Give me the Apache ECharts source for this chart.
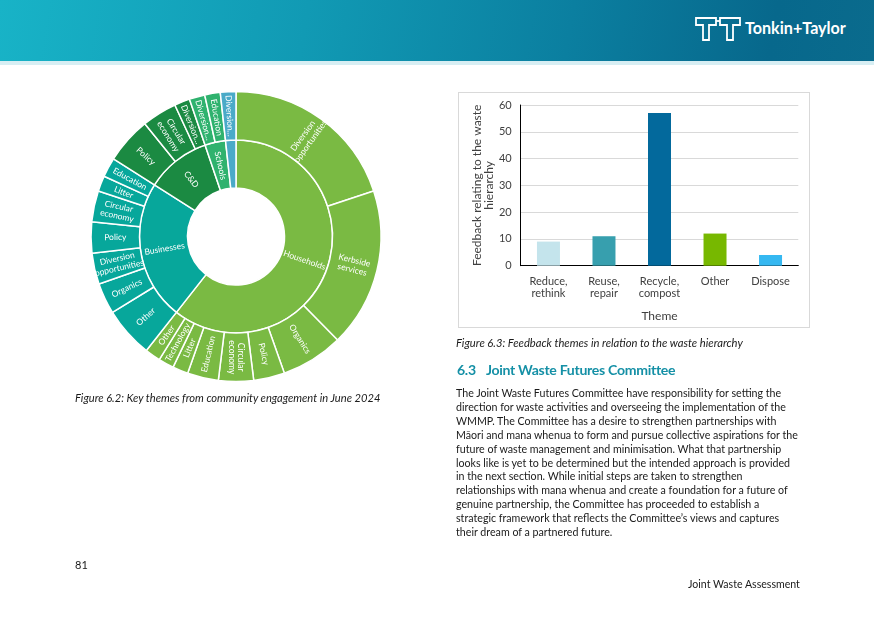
<!DOCTYPE html>
<html>
<head>
<meta charset="utf-8">
<script src="https://cdn.jsdelivr.net/npm/echarts@6/dist/echarts.min.js"></script>
<style>
  html, body { margin:0; padding:0; background:#fff; }
  body { width:874px; height:618px; position:relative; overflow:hidden; font-family: Lato, "Open Sans", sans-serif; color:#1a1a1a; }
  #header { position:absolute; left:0; top:0; width:874px; height:61px;
    background: linear-gradient(100deg, #18b3c7 0%, #119ab4 35%, #0b7fa0 65%, #07688c 88%, #0a6b8d 100%); }
  #strip { position:absolute; left:0; top:61px; width:874px; height:4px; background:#d7eef3; }
  #chart { position:absolute; left:0; top:0; width:874px; height:618px; }
  #box { position:absolute; left:458px; top:92px; width:350px; height:234px; border:1px solid #d9d9d9; }
  .t { position:absolute; white-space:nowrap; line-height:1; }
  .fit { display:inline-block; }
  #body { position:absolute; left:456px; top:386px; font-size:11px; line-height:13.9px; }
  #body div { white-space:nowrap; }
</style>
</head>
<body>
<div id="header">
  <svg style="position:absolute;left:695px;top:17px" width="48" height="25" viewBox="0 0 48 25">
    <path d="M1 1 H21 V8 H14 V23 H8 V8 H1 Z" fill="none" stroke="#fff" stroke-width="1.8"/>
    <path d="M25 1 H45 V8 H38 V23 H32 V8 H25 Z" fill="none" stroke="#fff" stroke-width="1.8"/>
    <path d="M21 4 H25" stroke="#fff" stroke-width="1.8"/>
  </svg>
  <div class="t fit" data-w="101" style="left:745px;top:20px;font-size:16px;font-weight:bold;color:#fff;">Tonkin+Taylor</div>
</div>
<div id="strip"></div>
<div id="box"></div>
<div id="chart"></div>

<div class="t fit" data-w="306" style="left:75px;top:392px;font-size:11px;font-style:italic;">Figure 6.2: Key themes from community engagement in June 2024</div>
<div class="t fit" data-w="287" style="left:456px;top:337px;font-size:11px;font-style:italic;">Figure 6.3: Feedback themes in relation to the waste hierarchy</div>
<div id="h63" class="t" style="left:457px;top:363px;font-size:15px;font-weight:bold;color:#1590a6;letter-spacing:-0.3px;">6.3</div>
<div id="hTitle" class="t fit" data-w="190" style="left:486px;top:363px;font-size:15px;font-weight:bold;color:#1590a6;letter-spacing:-0.3px;">Joint Waste Futures Committee</div>
<div id="body"></div>
<div class="t" style="left:75px;top:559px;font-size:11px;">81</div>
<div class="t fit" data-w="112" style="left:688px;top:579px;font-size:11px;">Joint Waste Assessment</div>

<script>
// ---------------- DATA ----------------
const innerNames = ['Households', 'Businesses', 'C&D', 'Schools', 'Diversion'];
const householdsNames = ['Diversion opportunities', 'Kerbside services', 'Organics', 'Policy', 'Circular economy', 'Education', 'Litter', 'Technology', 'Other'];
const householdsValues = [23, 20.5, 8, 4, 4.5, 4, 2, 2, 2];
const businessesNames = ['Other', 'Organics', 'Diversion opportunities', 'Policy', 'Circular economy', 'Litter', 'Education'];
const businessesValues = [6.5, 4, 4, 4, 4, 2, 2.5];
const cdNames = ['Policy', 'Circular economy', 'Diversion opportunities'];
const cdValues = [6, 4.5, 2];
const schoolsNames = ['Diversion opportunities', 'Education'];
const schoolsValues = [2, 2];
const diversionNames = ['Diversion opportunities'];
const diversionValues = [2];

const barCategories = ['Reduce,\nrethink', 'Reuse,\nrepair', 'Recycle,\ncompost', 'Other', 'Dispose'];
const barValues = [9, 11, 57, 12, 4];
const yTicks = [0, 10, 20, 30, 40, 50, 60];

const bodyLines = [
  'The Joint Waste Futures Committee have responsibility for setting the',
  'direction for waste activities and overseeing the implementation of the',
  'WMMP. The Committee has a desire to strengthen partnerships with',
  'M\u0101ori and mana whenua to form and pursue collective aspirations for the',
  'future of waste management and minimisation. What that partnership',
  'looks like is yet to be determined but the intended approach is provided',
  'in the next section. While initial steps are taken to strengthen',
  'relationships with mana whenua and create a foundation for a future of',
  'genuine partnership, the Committee has proceeded to establish a',
  'strategic framework that reflects the Committee\u2019s views and captures',
  'their dream of a partnered future.'
];

// ---------------- STYLE ----------------
const innerColors = ['#7aba43', '#07a79b', '#1b8a42', '#2fb26e', '#4aaac8'];
const barColors = ['#c4e4ec', '#379fae', '#03699c', '#77b800', '#35b8f1'];
const FONT = 'Lato, "Open Sans", sans-serif';

// body text
const bodyEl = document.getElementById('body');
bodyLines.forEach(l => { const d = document.createElement('div'); d.textContent = l; bodyEl.appendChild(d); });

// fit text widths
function measure(el) { return el.getBoundingClientRect().width; }
document.querySelectorAll('.fit').forEach(el => {
  const target = parseFloat(el.dataset.w);
  const fs = parseFloat(getComputedStyle(el).fontSize);
  el.style.fontSize = (fs * target / measure(el)) + 'px';
});
document.getElementById('h63').style.fontSize = document.getElementById('hTitle').style.fontSize;
(function () {
  const d = bodyEl.children[3];
  const span = document.createElement('span'); span.textContent = d.textContent; span.style.whiteSpace = 'nowrap';
  d.textContent = ''; d.appendChild(span);
  const w = span.getBoundingClientRect().width;
  bodyEl.style.fontSize = (11 * 342 / w) + 'px';
  d.textContent = span.textContent;
})();

// ---------------- CHART ----------------
function kids(names, values, color) {
  return names.map((n, i) => ({ name: n, value: values[i], itemStyle: { color: color } }));
}
const childNames = [householdsNames, businessesNames, cdNames, schoolsNames, diversionNames];
const childValues = [householdsValues, businessesValues, cdValues, schoolsValues, diversionValues];
const sunData = innerNames.map((n, i) => ({
  name: n,
  itemStyle: { color: innerColors[i] },
  label: i === 4 ? { show: false } : undefined,
  children: kids(childNames[i], childValues[i], innerColors[i])
}));

function sunLabel(p) {
  const words = p.name.split(' ');
  if (p.treePathInfo.length === 3 && words.length > 1 && p.value <= 2) return words[0] + '...';
  return words.join('\n');
}

const chart = echarts.init(document.getElementById('chart'), null, { renderer: 'canvas' });
chart.setOption({
  animation: false,
  textStyle: { fontFamily: FONT },
  grid: { left: 520.7, top: 105, width: 277.6, height: 160.7 },
  xAxis: {
    type: 'category', data: barCategories,
    axisLine: { lineStyle: { color: '#000', width: 1 } },
    axisTick: { show: false },
    axisLabel: { color: '#404040', fontSize: 11, lineHeight: 12, margin: 10, fontFamily: FONT },
    name: 'Theme', nameLocation: 'middle', nameGap: 44,
    nameTextStyle: { color: '#404040', fontSize: 12, fontFamily: FONT }
  },
  yAxis: {
    type: 'value', min: yTicks[0], max: yTicks[yTicks.length - 1], interval: 10,
    axisLine: { show: true, lineStyle: { color: '#000', width: 1 } },
    axisTick: { show: false },
    splitLine: { lineStyle: { color: '#d9d9d9', width: 1 } },
    axisLabel: { color: '#404040', fontSize: 11, margin: 9, fontFamily: FONT },
    name: 'Feedback relating to the waste\nhierarchy', nameLocation: 'middle', nameGap: 25, nameRotate: 90,
    nameTextStyle: { color: '#404040', fontSize: 12, lineHeight: 12, fontFamily: FONT }
  },
  series: [
    {
      type: 'bar', barWidth: 23,
      data: barValues.map((v, i) => ({ value: v, itemStyle: { color: barColors[i] } }))
    },
    {
      type: 'sunburst',
      center: [236, 236.5],
      radius: [48.5, 145],
      sort: null,
      nodeClick: false,
      startAngle: 90,
      data: sunData,
      itemStyle: { borderColor: '#fff', borderWidth: 1.5 },
      label: { color: '#fff', fontSize: 8.5, fontFamily: FONT, rotate: 'radial', formatter: sunLabel, lineHeight: 9.5 },
      emphasis: { disabled: true },
      levels: [
        {},
        { r0: 48.5, r: 96.5 },
        { r0: 96.5, r: 145 }
      ]
    }
  ]
});
</script>
</body>
</html>
